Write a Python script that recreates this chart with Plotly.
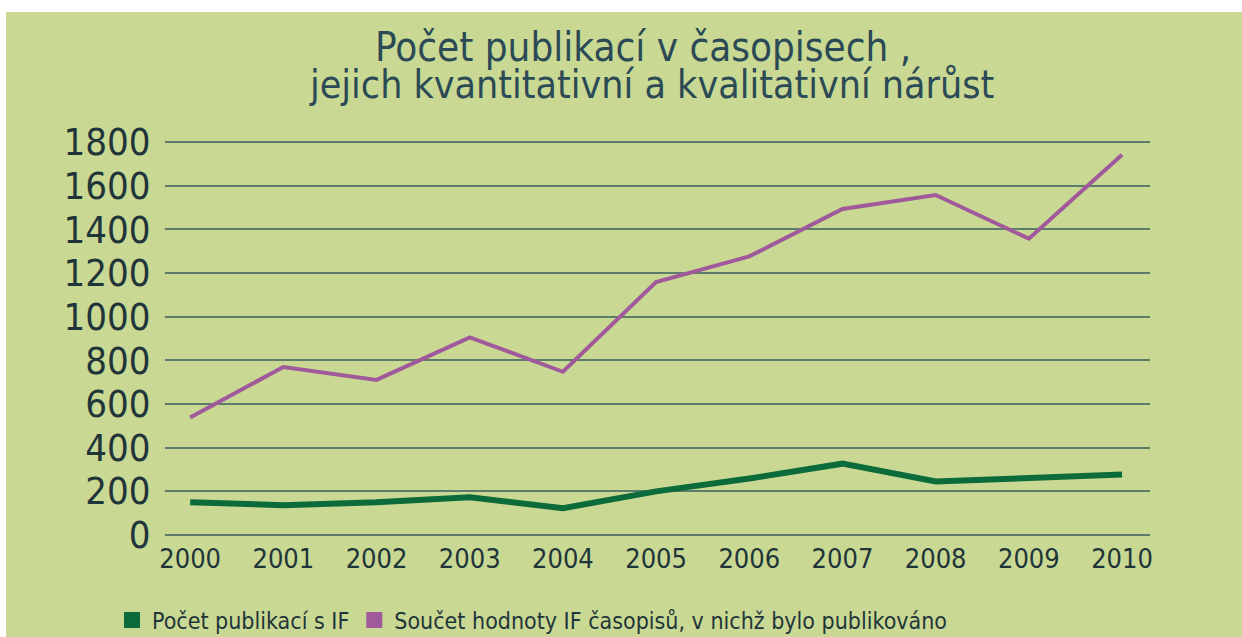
import plotly.graph_objects as go

years = [2000, 2001, 2002, 2003, 2004, 2005, 2006, 2007, 2008, 2009, 2010]
pocet_publikaci = [149, 136, 149, 172, 122, 199, 258, 326, 244, 262, 276]
soucet_if = [538, 769, 710, 905, 747, 1158, 1276, 1493, 1557, 1357, 1742]
y_ticks = [0, 200, 400, 600, 800, 1000, 1200, 1400, 1600, 1800]

name_green = "Počet publikací s IF"
name_purple = "Součet hodnoty IF časopisů, v nichž bylo publikováno"
title_line1 = "Počet publikací v časopisech ,"
title_line2 = "jejich kvantitativní a kvalitativní nárůst"

BG = "#c9d993"
GREEN = "#0b6b3a"
PURPLE = "#a05a9c"
GRID = "#5e7c6c"
TXT = "#1f3539"
FONT = "Liberation Sans Narrow, Arial Narrow, DejaVu Sans Condensed, Liberation Sans, Arial, sans-serif"

fig = go.Figure()
fig.add_trace(go.Scatter(x=years, y=pocet_publikaci, mode="lines",
                         line=dict(color=GREEN, width=6), showlegend=False,
                         name=name_green))
fig.add_trace(go.Scatter(x=years, y=soucet_if, mode="lines",
                         line=dict(color=PURPLE, width=4), showlegend=False,
                         name=name_purple))
# legend entries (square swatches)
fig.add_trace(go.Scatter(x=[None], y=[None], mode="markers", name=name_green,
                         marker=dict(symbol="square", size=20, color=GREEN)))
fig.add_trace(go.Scatter(x=[None], y=[None], mode="markers", name=name_purple,
                         marker=dict(symbol="square", size=20, color=PURPLE)))

L, R, T, B = 165, 92, 130, 100
W, H = 1242, 637
pw, ph = W - L - R, H - T - B

def px(xp):
    return (xp - L) / pw

def py(yp):
    return (H - B - yp) / ph

fig.update_layout(
    width=W, height=H,
    margin=dict(l=L, r=R, t=T, b=B, autoexpand=False),
    paper_bgcolor=BG, plot_bgcolor=BG,
    font=dict(family=FONT, color=TXT),
    xaxis=dict(range=[1999.73, 2010.30], tickmode="array", tickvals=years,
               ticktext=[str(y) for y in years], showgrid=False, zeroline=False,
               showline=False, tickfont=dict(size=27, color=TXT),
               ticks="", ticklabelstandoff=3),
    yaxis=dict(range=[-10, 1855], tickmode="array", tickvals=y_ticks,
               showgrid=True, gridcolor=GRID, gridwidth=2, zeroline=False,
               showline=False, tickfont=dict(size=38, color=TXT),
               ticks="outside", ticklen=6, tickcolor=BG),
    legend=dict(orientation="h", xref="container", yref="container",
                x=112 / W, xanchor="left", y=(H - 620) / H, yanchor="middle",
                font=dict(size=23, color=TXT), bgcolor="rgba(0,0,0,0)",
                itemwidth=30, tracegroupgap=0),
    showlegend=True,
    annotations=[
        dict(text=title_line1, x=px(643), y=py(47), xref="paper", yref="paper",
             showarrow=False, xanchor="center", yanchor="middle",
             font=dict(size=40, color="#2b4a55", family=FONT)),
        dict(text=title_line2, x=px(651), y=py(84), xref="paper", yref="paper",
             showarrow=False, xanchor="center", yanchor="middle",
             font=dict(size=39, color="#2b4a55", family=FONT)),
    ],
    shapes=[
        dict(type="rect", xref="paper", yref="paper", x0=px(-5), x1=px(1250),
             y0=py(12), y1=py(-5), fillcolor="white", line=dict(width=0), layer="below"),
        dict(type="rect", xref="paper", yref="paper", x0=px(-5), x1=px(6),
             y0=py(645), y1=py(-5), fillcolor="white", line=dict(width=0), layer="below"),
    ],
)

fig.write_html("out.html", config={"displayModeBar": False},
               post_script="document.body.style.margin='0';document.body.style.overflow='hidden';")
